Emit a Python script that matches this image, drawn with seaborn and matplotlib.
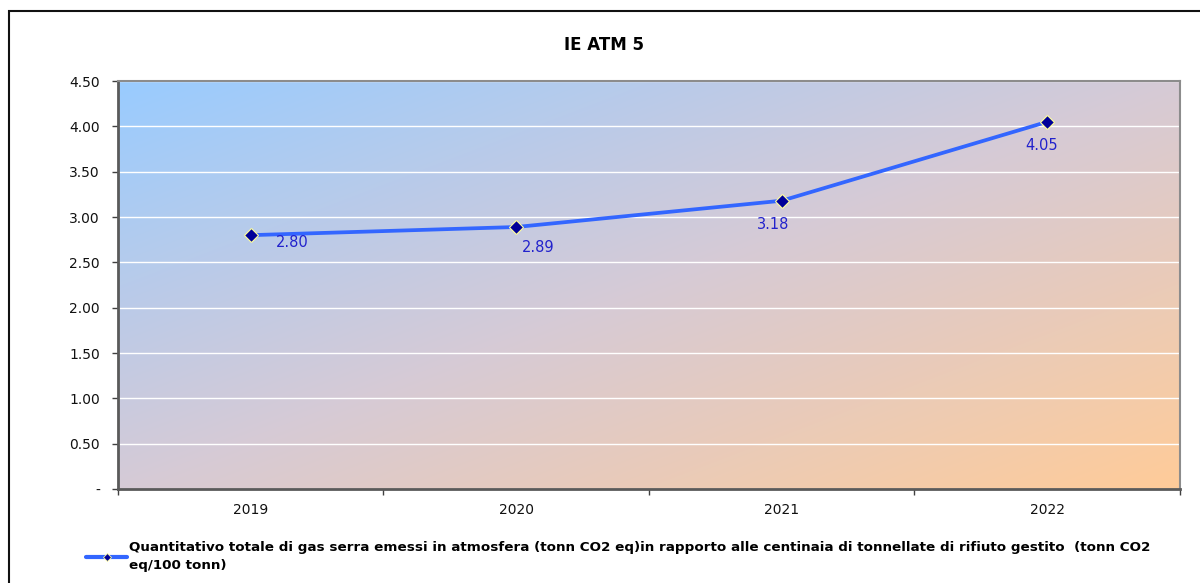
import numpy as np
import pandas as pd
import matplotlib
matplotlib.use("Agg")
import matplotlib.pyplot as plt
import seaborn as sns
from matplotlib.colors import LinearSegmentedColormap
from matplotlib.patches import Rectangle
from matplotlib.lines import Line2D

years = ["2019", "2020", "2021", "2022"]
values = [2.80, 2.89, 3.18, 4.05]
yticks = [0, 0.5, 1.0, 1.5, 2.0, 2.5, 3.0, 3.5, 4.0, 4.5]
ytick_labels = ["-", "0.50", "1.00", "1.50", "2.00", "2.50", "3.00", "3.50", "4.00", "4.50"]
title = "IE ATM 5"
series_name = ("Quantitativo totale di gas serra emessi in atmosfera (tonn CO2 eq)in rapporto alle "
               "centinaia di tonnellate di rifiuto gestito  (tonn CO2\neq/100 tonn)")

sns.set_theme(style="white")
plt.rcParams['font.family'] = ['DejaVu Sans']

df = pd.DataFrame({"year": years, "value": values})

fig = plt.figure(figsize=(12, 5.83), dpi=100)
ax = fig.add_axes([0.0983, 0.1612, 0.885, 0.6998])

# gradient background: light blue top-left -> light orange bottom-right
n = 256
xx, yy = np.meshgrid(np.linspace(0, 1, n), np.linspace(0, 1, n))
t = (xx + yy) / 2.0
cmap = LinearSegmentedColormap.from_list("bg", ["#99CCFF", "#D6CAD6", "#FFCC99"])
ax.imshow(t, cmap=cmap, extent=[0, 1, 0, 1], transform=ax.transAxes,
          aspect="auto", zorder=0, origin="upper", interpolation="bicubic")

sns.lineplot(data=df, x="year", y="value", ax=ax, color="#3366FF", linewidth=2.7,
             marker="D", markersize=7, markerfacecolor="#000099",
             markeredgecolor="#FFFF99", markeredgewidth=0.8, zorder=5,
             label="series")

ax.set_xlim(-0.5, 3.5)
ax.set_ylim(0, 4.5)
ax.set_yticks(yticks)
ax.set_yticklabels(ytick_labels)
ax.yaxis.grid(True, color="white", linewidth=1)
for gl in ax.get_ygridlines():
    gl.set_zorder(1)
ax.set_xlabel("")
ax.set_ylabel("")

ax.set_xticks(range(len(years)))
ax.set_xticklabels(years)
ax.set_xticks([-0.5, 0.5, 1.5, 2.5, 3.5], minor=True)
ax.tick_params(axis="x", which="major", length=0, pad=10, labelsize=10, colors="#111111")
ax.tick_params(axis="x", which="minor", length=4, width=1, color="#404040", bottom=True)
ax.tick_params(axis="y", length=4, width=1, color="#404040", left=True, labelsize=10,
               labelcolor="#111111", pad=9)

for side in ["left", "bottom"]:
    ax.spines[side].set_color("#5a5a5a")
    ax.spines[side].set_linewidth(2)
for side in ["top", "right"]:
    ax.spines[side].set_color("#8c8c8c")
    ax.spines[side].set_linewidth(1.5)

# data labels (offsets in points)
offsets = [(18, -5, "left"), (4, -15, "left"), (-6, -17, "center"), (-4, -17, "center")]
for i, (v, (dx, dy, ha)) in enumerate(zip(values, offsets)):
    ax.annotate(f"{v:.2f}", (i, v), xytext=(dx, dy), textcoords="offset points",
                ha=ha, va="center", color="#2222CC", fontsize=10.5, zorder=6)

fig.text(0.503, 0.923, title, ha="center", va="center", fontsize=12, fontweight="bold",
         color="#000000")

ax.legend_.remove()
h = Line2D([0], [0], color="#3366FF", linewidth=3, marker="D", markersize=4,
           markerfacecolor="#000099", markeredgecolor="#FFFF99", markeredgewidth=0.6)
leg = fig.legend([h], [series_name], loc="upper left", bbox_to_anchor=(0.072, 0.072),
                 frameon=False, handlelength=3.0, handletextpad=0.15,
                 prop={"weight": "bold", "size": 9.7}, borderaxespad=0, borderpad=0)
for txt in leg.get_texts():
    txt.set_linespacing(1.45)
    txt.set_color("#000000")

# outer border
fig.patches.append(Rectangle((0.0075, -0.2), 1.2, 1.181, transform=fig.transFigure,
                             fill=False, edgecolor="#111111", linewidth=1.5))

fig.savefig("out.png", dpi=100)
